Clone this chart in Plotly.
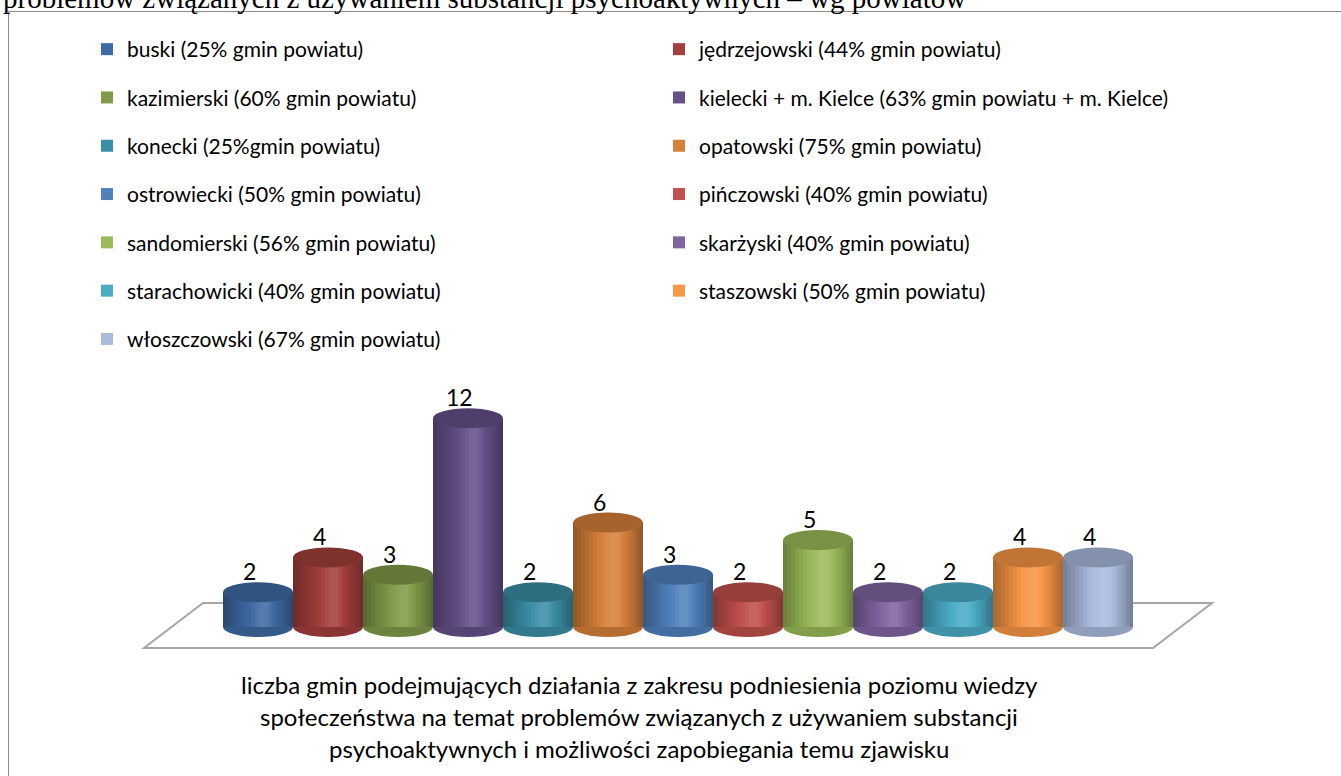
import plotly.graph_objects as go

# ---------------- data ----------------
categories = [
    "buski (25% gmin powiatu)",
    "jędrzejowski (44% gmin powiatu)",
    "kazimierski (60% gmin powiatu)",
    "kielecki + m. Kielce (63% gmin powiatu + m. Kielce)",
    "konecki (25%gmin powiatu)",
    "opatowski (75% gmin powiatu)",
    "ostrowiecki (50% gmin powiatu)",
    "pińczowski (40% gmin powiatu)",
    "sandomierski (56% gmin powiatu)",
    "skarżyski (40% gmin powiatu)",
    "starachowicki (40% gmin powiatu)",
    "staszowski (50% gmin powiatu)",
    "włoszczowski (67% gmin powiatu)",
]
values = [2, 4, 3, 12, 2, 6, 3, 2, 5, 2, 2, 4, 4]
colors = ["#3E6BA3", "#A33F3C", "#7F9B48", "#66508A", "#3A8FA6", "#D6803A",
          "#4F81BD", "#C0504D", "#9BBB59", "#8064A2", "#4BACC6", "#F79646",
          "#A9BBDD"]
x_title_lines = [
    "liczba gmin podejmujących działania z zakresu podniesienia poziomu wiedzy",
    "społeczeństwa na temat problemów związanych z używaniem substancji",
    "psychoaktywnych i możliwości zapobiegania temu zjawisku",
]
top_text = "problemów związanych z używaniem substancji psychoaktywnych – wg powiatów"

# ---------------- layout geometry ----------------
W, H = 1341, 776
ML, MR, MT, MB = 60, 20, 360, 100
PW, PH = W - ML - MR, H - MT - MB
X0PX, XSTEP = 258, 70.0      # pixel of first category centre, px per category
Y0PX, YSTEP = 627, 17.4      # pixel of value 0, px per unit


def xd(px):
    return (px - X0PX) / XSTEP


def yd(py):
    return (Y0PX - py) / YSTEP


def xp(px):
    return (px - ML) / PW


def yp(py):
    return (H - MB - py) / PH


def shade(hexc, f):
    h = hexc.lstrip("#")
    rgb = [int(h[i:i + 2], 16) for i in (0, 2, 4)]
    if f <= 1:
        out = [int(c * f) for c in rgb]
    else:
        t = f - 1
        out = [int(c + (255 - c) * t) for c in rgb]
    return "#%02x%02x%02x" % tuple(max(0, min(255, c)) for c in out)


FONT = "Lato, Carlito, Calibri, sans-serif"
n = len(categories)
xs = list(range(n))

fig = go.Figure()

# legend entries (base colours)
for i, (name, c) in enumerate(zip(categories, colors)):
    fig.add_trace(go.Bar(
        x=[None], y=[None], name=name,
        marker=dict(color=c, line=dict(width=0)),
        legend="legend" if i % 2 == 0 else "legend2",
        legendgroup=name, hoverinfo="skip",
    ))

# cylinder bodies: dark edge band + progressively lighter inner bands
NB = 10
for k in range(NB):
    t = k / (NB - 1)
    w = 1.0 - 0.88 * t
    f = 0.70 + 0.42 * t
    s = 0.08 * t
    fig.add_trace(go.Bar(
        x=xs, y=values, width=w, offset=-w / 2 + s,
        marker=dict(color=[shade(c, f) for c in colors], line=dict(width=0)),
        showlegend=False, hoverinfo="skip",
    ))

shapes = []
# outer frame
shapes.append(dict(type="rect", xref="paper", yref="paper",
                   x0=xp(8.5), x1=xp(1360), y0=yp(11.5), y1=yp(800),
                   line=dict(color="#8C8C8C", width=1), fillcolor="rgba(0,0,0,0)",
                   layer="below"))
# floor
floor = [(203, 603), (1212, 603), (1153, 648), (144, 648)]
path = "M " + " L ".join("%f,%f" % (xd(a), yd(b)) for a, b in floor) + " Z"
shapes.append(dict(type="path", xref="x", yref="y", path=path,
                   line=dict(color="#A6A6A6", width=2), fillcolor="white",
                   layer="below"))
EH = 10.0 / YSTEP   # ellipse half-height in data units
for i, (v, c) in enumerate(zip(values, colors)):
    shapes.append(dict(type="circle", xref="x", yref="y",
                       x0=i - 0.5, x1=i + 0.5, y0=-EH, y1=EH,
                       line=dict(width=0), fillcolor=shade(c, 0.85), layer="below"))
for i, (v, c) in enumerate(zip(values, colors)):
    shapes.append(dict(type="circle", xref="x", yref="y",
                       x0=i - 0.5, x1=i + 0.5, y0=v - EH, y1=v + EH,
                       line=dict(width=0), fillcolor=shade(c, 0.78), layer="above"))

annotations = []
for i, v in enumerate(values):
    annotations.append(dict(x=i, y=v, xref="x", yref="y", text=str(v),
                            showarrow=False, xshift=-9, yshift=21,
                            font=dict(family=FONT, size=23, color="black")))
for k, line in enumerate(x_title_lines):
    annotations.append(dict(x=xp(639), y=yp(684 + 32 * k), xref="paper", yref="paper",
                            text=line, showarrow=False, xanchor="center", yanchor="middle",
                            font=dict(family=FONT, size=24, color="black")))
annotations.append(dict(x=xp(1), y=yp(16), xref="paper", yref="paper", text=top_text,
                        showarrow=False, xanchor="left", yanchor="bottom",
                        font=dict(family="Liberation Serif, Times New Roman, serif",
                                  size=29, color="black")))

legend_common = dict(
    xref="container", yref="container", xanchor="left", yanchor="top",
    orientation="v", tracegroupgap=18, bgcolor="rgba(0,0,0,0)", borderwidth=0,
    font=dict(family=FONT, size=21, color="black"), itemclick=False,
    itemdoubleclick=False,
)
fig.update_layout(
    width=W, height=H,
    margin=dict(l=ML, r=MR, t=MT, b=MB, autoexpand=False),
    paper_bgcolor="white", plot_bgcolor="white",
    barmode="overlay", bargap=0,
    showlegend=True,
    legend=dict(x=87 / W, y=1 - 29 / H, **legend_common),
    legend2=dict(x=659 / W, y=1 - 29 / H, **legend_common),
    xaxis=dict(range=[xd(ML), xd(W - MR)], visible=False, fixedrange=True),
    yaxis=dict(range=[yd(H - MB), yd(MT)], visible=False, fixedrange=True),
    shapes=shapes, annotations=annotations,
)

fig.write_html("out.html",
               config={"displayModeBar": False},
               post_script="document.body.style.margin='0';"
                           "document.body.style.overflow='hidden';")
